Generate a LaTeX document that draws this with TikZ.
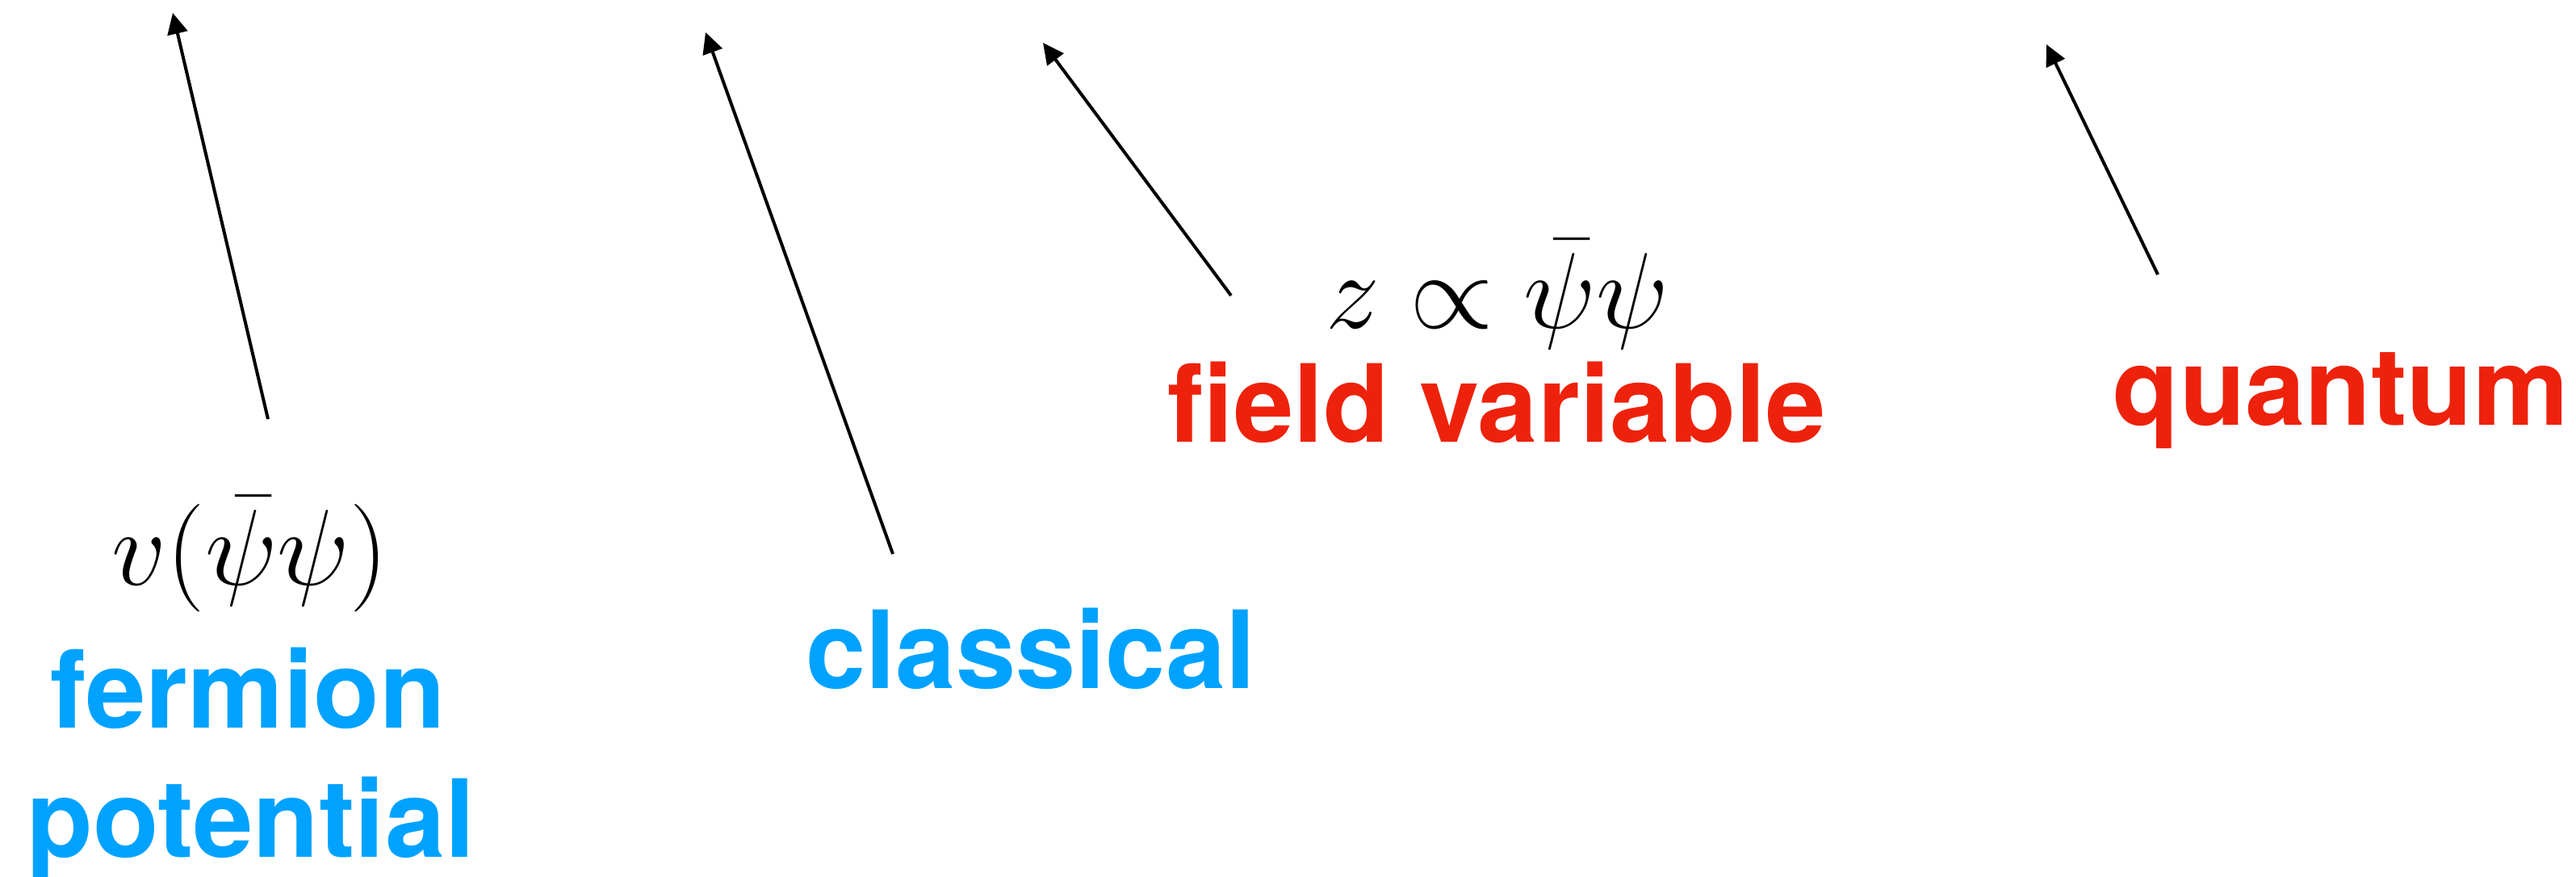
\documentclass[tikz,border=0pt]{standalone}
\usepackage{fix-cm}
\usepackage{fontspec}
\setsansfont{TeX Gyre Heros}
\usepackage{tikz}
\usetikzlibrary{arrows.meta, positioning}
\definecolor{colorClasico}{HTML}{00A2FF}
\definecolor{colorCuantico}{HTML}{EE220C}

\begin{document}
\begin{tikzpicture}[
        lbl/.style={anchor=base, inner sep=0pt, font=\sffamily\bfseries\fontsize{38}{46}\selectfont},
        eqn/.style={anchor=base, inner sep=0pt, font=\fontsize{38}{46}\selectfont},
        ptr/.style={-{Triangle[length=0.26cm, width=0.25cm]}, line width=0.04cm, black}
    ]
        \useasboundingbox (0,0) rectangle (31.91,10.86);
        % labels
        \node[lbl, text=colorClasico] (ferm) at (3.07,1.84) {fermion};
        \node[lbl, text=colorClasico] (pot) at (3.11,0.24) {potential};
        \node[lbl, text=colorClasico] (clas) at (12.77,2.33) {classical};
        \node[lbl, text=colorCuantico] (field) at (18.54,5.38) {field variable};
        \node[lbl, text=colorCuantico] (quant) at (29.00,5.59) {quantum};
        \node[eqn] (vpot) at (3.10,3.61) {$v(\bar\psi\psi)$};
        \node[eqn] (zprop) at (18.55,6.79) {$z\propto\bar\psi\psi$};
        % arrows
        \coordinate (fermTail) at (3.32,5.67);  \coordinate (fermTip) at (2.14,10.70);
        \coordinate (clasTail) at (11.06,4.00); \coordinate (clasTip) at (8.74,10.46);
        \coordinate (fieldTail) at (15.25,7.20); \coordinate (fieldTip) at (12.92,10.33);
        \coordinate (quantTail) at (26.73,7.46); \coordinate (quantTip) at (25.35,10.31);
        \draw[ptr] (fermTail)--(fermTip); \draw[ptr] (clasTail)--(clasTip);
        \draw[ptr] (fieldTail)--(fieldTip); \draw[ptr] (quantTail)--(quantTip);
    \end{tikzpicture}
\end{document}
